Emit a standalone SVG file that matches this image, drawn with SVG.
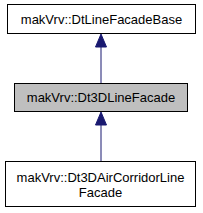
<svg xmlns="http://www.w3.org/2000/svg" width="203" height="213" viewBox="0 0 203 213">
<defs>
<style>
.box{fill:#ffffff;stroke:#000000;stroke-width:1}
.cur{fill:#bfbfbf;stroke:#000000;stroke-width:1}
.lbl{font-family:"Liberation Sans",Arial,sans-serif;font-size:13px;fill:#000000;text-anchor:middle}
.edge{stroke:#191970;stroke-width:1;fill:none}
.head{fill:#191970;stroke:#191970;stroke-width:1}
</style>
</defs>
<rect width="203" height="213" fill="#ffffff"/>
<g id="connectors">
<g id="edge1">
<line class="edge" x1="101" y1="83.5" x2="101" y2="47"/>
<polygon class="head" points="101,34 95.5,47 106.5,47"/>
</g>
<g id="edge2">
<line class="edge" x1="101" y1="161.5" x2="101" y2="125"/>
<polygon class="head" points="101,112 95.5,125 106.5,125"/>
</g>
</g>
<g id="node1">
<rect class="box" x="7.5" y="4.5" width="188" height="29"/>
<text class="lbl" x="101.5" y="24">makVrv::DtLineFacadeBase</text>
</g>
<g id="node2">
<rect class="cur" x="14.5" y="83.5" width="173" height="28"/>
<text class="lbl" x="101" y="102">makVrv::Dt3DLineFacade</text>
</g>
<g id="node3">
<rect class="box" x="5.5" y="161.5" width="190" height="45"/>
<text class="lbl" x="100.5" y="182">makVrv::Dt3DAirCorridorLine</text>
<text class="lbl" x="100.5" y="197">Facade</text>
</g>
</svg>
